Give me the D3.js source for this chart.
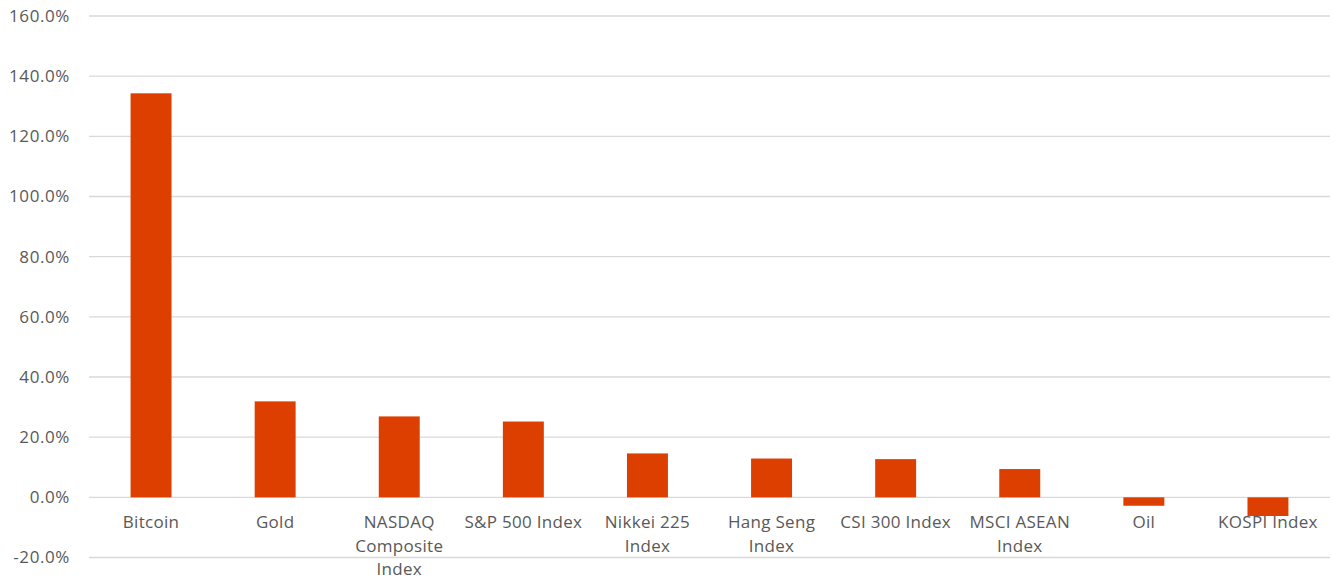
<!DOCTYPE html>
<html><head><meta charset="utf-8">
<script src="https://cdn.jsdelivr.net/npm/d3@7"></script>
<style>body{margin:0;background:#fff}</style>
</head><body><svg id="c" width="1333" height="580"></svg>
<script>
const categories = ["Bitcoin","Gold","NASDAQ Composite Index","S&P 500 Index","Nikkei 225 Index","Hang Seng Index","CSI 300 Index","MSCI ASEAN Index","Oil","KOSPI Index"];
const labelLines = [["Bitcoin"],["Gold"],["NASDAQ","Composite","Index"],["S&P 500 Index"],["Nikkei 225","Index"],["Hang Seng","Index"],["CSI 300 Index"],["MSCI ASEAN","Index"],["Oil"],["KOSPI Index"]];
const values = [134.3, 31.9, 26.9, 25.2, 14.6, 12.9, 12.7, 9.4, -2.8, -6.2];
const yTicks = [-20, 0, 20, 40, 60, 80, 100, 120, 140, 160];

const svg = d3.select("#c");
const font = "'Open Sans', sans-serif";
const x = d3.scaleBand().domain(categories).range([89, 1330]).paddingInner(0.67).paddingOuter(0.335);
const y = d3.scaleLinear().domain([-20, 160]).range([557.5, 16]);

// gridlines
svg.append("g").selectAll("line").data(yTicks).join("line")
  .attr("x1", 89).attr("x2", 1330)
  .attr("y1", d => y(d)).attr("y2", d => y(d))
  .attr("stroke", "#d9d9d9").attr("stroke-width", 1.3);

// y tick labels
svg.append("g").selectAll("text").data(yTicks).join("text")
  .attr("x", 70).attr("y", d => y(d)).attr("dy", "0.35em")
  .attr("text-anchor", "end").attr("font-family", font).attr("font-size", 17)
  .attr("letter-spacing", 0.6)
  .attr("fill", "#595959").text(d => d.toFixed(1) + "%");

// bars
svg.append("g").selectAll("rect").data(values).join("rect")
  .attr("x", (d, i) => x(categories[i]))
  .attr("width", x.bandwidth())
  .attr("y", d => y(Math.max(0, d)))
  .attr("height", d => Math.abs(y(d) - y(0)))
  .attr("fill", "#DC3F00");

// category labels
const lg = svg.append("g");
labelLines.forEach((lines, i) => {
  const cx = x(categories[i]) + x.bandwidth() / 2;
  const t = lg.append("text").attr("text-anchor", "middle").attr("font-family", font)
    .attr("font-size", 17).attr("letter-spacing", 0.3).attr("fill", "#595959");
  lines.forEach((ln, j) => {
    t.append("tspan").attr("x", cx).attr("y", 522.5 + j * 23.5).attr("dy", "0.35em").text(ln);
  });
});
</script></body></html>
